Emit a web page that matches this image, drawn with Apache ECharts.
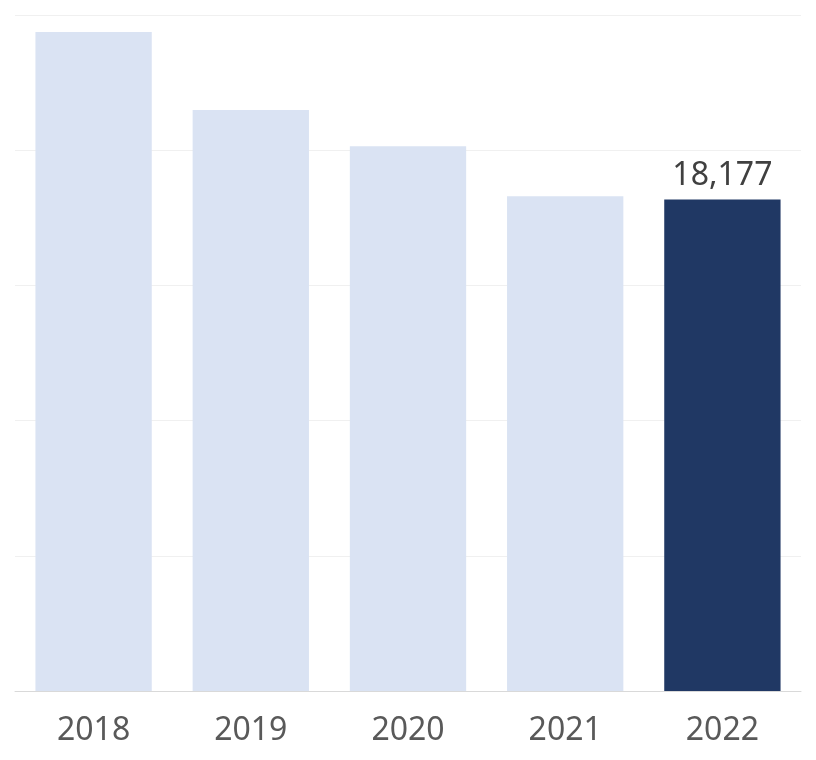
<!DOCTYPE html>
<html>
<head>
<meta charset="utf-8">
<script src="https://cdn.jsdelivr.net/npm/echarts@6/dist/echarts.min.js"></script>
<style>html,body{margin:0;padding:0;background:#fff}#c{width:816px;height:760px}</style>
</head>
<body>
<div id="c"></div>
<script>
const categories = ['2018', '2019', '2020', '2021', '2022'];
const values = [24370, 21490, 20150, 18300, 18177];
const highlightIndex = 4;

const chart = echarts.init(document.getElementById('c'), null, {renderer: 'canvas'});
chart.setOption({
  animation: false,
  backgroundColor: '#ffffff',
  grid: {left: 15, right: 15, top: 15, bottom: 69, containLabel: false},
  xAxis: {
    type: 'category',
    data: categories,
    axisLine: {show: true, lineStyle: {color: '#d9d9d9', width: 1}},
    axisTick: {show: false},
    axisLabel: {color: '#595959', fontSize: 32, fontFamily: 'Noto Sans', margin: 24}
  },
  yAxis: {
    type: 'value',
    min: 0, max: 25000, interval: 5000,
    axisLine: {show: false},
    axisTick: {show: false},
    axisLabel: {show: false},
    splitLine: {lineStyle: {color: '#f0f0f0', width: 1}}
  },
  series: [{
    type: 'bar',
    barWidth: '74%',
    data: values.map((v, i) => ({
      value: v,
      itemStyle: {color: i === highlightIndex ? '#203864' : '#dae3f3'},
      label: {
        show: i === highlightIndex,
        position: 'top',
        distance: 8,
        color: '#404040',
        fontSize: 32,
        fontFamily: 'Noto Sans',
        formatter: p => p.value.toLocaleString('en-US')
      }
    }))
  }]
});
</script>
</body>
</html>
